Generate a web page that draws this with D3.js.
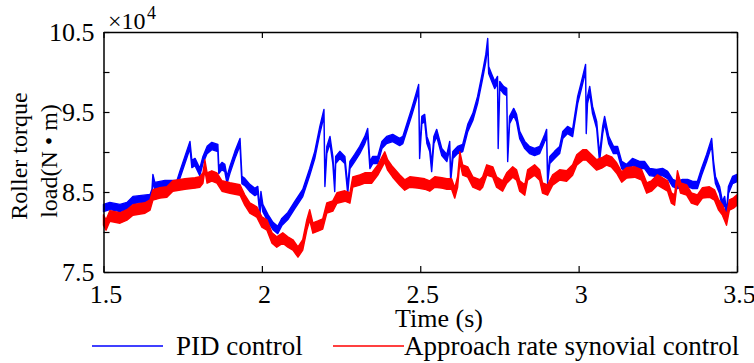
<!DOCTYPE html>
<html>
<head>
<meta charset="utf-8">
<script src="https://cdn.jsdelivr.net/npm/d3@7"></script>
</head>
<body style="margin:0">
<svg width="754" height="363"></svg>
<script>
// values, load in units of 1e4 N*m
const pidTime = [1.500,1.520,1.552,1.574,1.593,1.647,1.653,1.656,1.662,1.694,1.732,1.741,1.757,1.773,1.779,1.789,1.804,1.814,1.827,1.842,1.861,1.864,1.874,1.883,1.890,1.899,1.915,1.931,1.937,1.946,1.962,1.978,1.987,1.994,1.997,2.003,2.019,2.035,2.050,2.063,2.082,2.104,2.129,2.151,2.167,2.183,2.196,2.199,2.205,2.215,2.224,2.230,2.233,2.246,2.262,2.271,2.278,2.293,2.309,2.325,2.334,2.341,2.350,2.366,2.379,2.394,2.413,2.435,2.445,2.457,2.473,2.486,2.495,2.498,2.505,2.514,2.521,2.530,2.536,2.543,2.552,2.568,2.584,2.593,2.596,2.603,2.618,2.634,2.650,2.666,2.681,2.697,2.707,2.713,2.716,2.726,2.735,2.744,2.746,2.751,2.763,2.773,2.776,2.782,2.795,2.804,2.814,2.830,2.845,2.861,2.877,2.893,2.899,2.902,2.909,2.924,2.940,2.950,2.965,2.981,2.997,3.009,3.022,3.024,3.028,3.035,3.044,3.057,3.066,3.076,3.082,3.095,3.110,3.123,3.136,3.151,3.170,3.192,3.208,3.224,3.246,3.265,3.281,3.297,3.312,3.328,3.344,3.360,3.375,3.388,3.404,3.420,3.426,3.432,3.445,3.454,3.461,3.467,3.473,3.486,3.500];
const pidLoad = [8.300,8.325,8.300,8.325,8.400,8.425,8.488,8.675,8.575,8.600,8.600,8.713,8.900,9.088,8.850,8.875,8.750,8.900,9.025,9.075,9.050,8.775,8.825,8.800,8.650,8.775,8.963,9.125,8.650,8.625,8.550,8.500,8.525,8.250,8.463,8.300,8.175,8.075,8.025,8.125,8.200,8.338,8.488,8.750,8.963,9.275,9.488,8.613,9.025,9.150,8.900,8.550,8.900,8.963,8.900,8.525,8.838,8.925,9.025,9.150,9.250,8.838,8.900,8.900,9.088,9.150,9.175,9.125,9.150,9.300,9.500,9.675,9.800,8.963,9.400,9.425,9.150,9.050,8.800,9.150,9.238,9.000,8.925,9.088,8.675,8.963,9.025,9.050,9.300,9.438,9.650,9.963,10.175,10.375,10.025,9.925,9.838,9.900,9.088,9.838,9.775,9.750,8.925,9.400,9.500,9.425,9.213,9.088,9.025,9.000,9.025,9.175,9.238,8.650,8.900,8.963,9.025,9.213,9.275,9.238,9.650,9.838,10.050,9.275,9.650,9.775,9.525,9.338,8.925,9.275,9.400,9.150,9.025,9.025,8.838,8.800,8.875,8.838,8.838,8.750,8.738,8.750,8.713,8.613,8.588,8.613,8.613,8.588,8.588,8.750,8.925,9.125,8.838,8.650,8.525,8.338,8.400,8.213,8.525,8.650,8.675];

const arsTime = [1.500,1.508,1.520,1.552,1.574,1.593,1.631,1.647,1.656,1.678,1.700,1.719,1.757,1.789,1.804,1.814,1.820,1.827,1.842,1.858,1.874,1.899,1.931,1.946,1.962,1.984,2.000,2.016,2.032,2.047,2.066,2.082,2.098,2.114,2.129,2.142,2.151,2.161,2.177,2.192,2.205,2.224,2.237,2.262,2.278,2.287,2.309,2.325,2.347,2.366,2.388,2.397,2.413,2.435,2.451,2.467,2.492,2.514,2.530,2.546,2.568,2.584,2.599,2.609,2.618,2.625,2.634,2.650,2.666,2.688,2.697,2.710,2.729,2.741,2.760,2.773,2.792,2.804,2.814,2.830,2.839,2.861,2.877,2.886,2.902,2.918,2.940,2.962,2.981,2.994,3.013,3.025,3.041,3.057,3.073,3.088,3.104,3.120,3.136,3.151,3.177,3.199,3.215,3.230,3.249,3.265,3.281,3.293,3.303,3.312,3.322,3.341,3.356,3.375,3.391,3.413,3.429,3.442,3.454,3.467,3.476,3.489,3.500];
const arsLoad = [8.150,8.088,8.200,8.175,8.213,8.275,8.300,8.338,8.463,8.488,8.500,8.575,8.600,8.613,8.625,8.675,8.838,8.675,8.700,8.675,8.575,8.550,8.525,8.400,8.300,8.250,8.125,8.088,7.925,7.875,7.925,7.875,7.838,7.750,7.838,8.088,8.213,8.050,8.075,8.100,8.300,8.325,8.425,8.450,8.425,8.625,8.650,8.675,8.675,8.775,8.938,8.838,8.750,8.650,8.588,8.625,8.613,8.600,8.575,8.625,8.613,8.600,8.600,8.488,8.625,8.938,8.775,8.750,8.625,8.588,8.625,8.775,8.750,8.625,8.575,8.675,8.750,8.713,8.575,8.525,8.713,8.775,8.713,8.550,8.525,8.650,8.713,8.700,8.775,8.900,8.963,8.963,8.900,8.838,8.863,8.900,8.875,8.800,8.688,8.738,8.750,8.713,8.550,8.575,8.650,8.613,8.575,8.425,8.400,8.700,8.550,8.525,8.425,8.400,8.488,8.500,8.463,8.338,8.275,8.150,8.338,8.363,8.400];

// half height of the noise band around each series, in load units
const pidSpread = 0.045;
const arsSpread = 0.065;

const xTicks = [1.5, 2, 2.5, 3, 3.5];
const yTicks = [7.5, 8, 8.5, 9, 9.5, 10, 10.5];
const yLabels = [7.5, 8.5, 9.5, 10.5];
const seriesNames = ["PID control", "Approach rate synovial control"];
const seriesColors = ["#0000ff", "#ff0000"];

const svg = d3.select('svg');
const margin = { top: 32, right: 17, bottom: 91, left: 103.5 };
const innerWidth = +svg.attr('width') - margin.left - margin.right;
const innerHeight = +svg.attr('height') - margin.top - margin.bottom;

const xScale = d3.scaleLinear().domain([1.5, 3.5]).range([0, innerWidth]);
const yScale = d3.scaleLinear().domain([7.5, 10.5]).range([innerHeight, 0]);

const g = svg.append('g').attr('transform', `translate(${margin.left},${margin.top})`);

const seriesList = [
  { data: d3.zip(pidTime, pidLoad), color: seriesColors[0], s: pidSpread },
  { data: d3.zip(arsTime, arsLoad), color: seriesColors[1], s: arsSpread }
];

seriesList.forEach(sr => {
  const band = d3.area()
    .x(d => xScale(d[0]))
    .y0(d => yScale(d[1] - sr.s))
    .y1(d => yScale(d[1] + sr.s));
  g.append('path')
    .attr('d', band(sr.data))
    .attr('fill', sr.color)
    .attr('stroke', sr.color)
    .attr('stroke-width', 1.4)
    .attr('stroke-linejoin', 'round');
});

// axes, ticks pointing inward
const fmt = d => (yLabels.includes(d) ? String(d) : '');
g.append('g').attr('class', 'axis xb')
  .attr('transform', `translate(0,${innerHeight})`)
  .call(d3.axisBottom(xScale).tickValues(xTicks).tickSizeInner(-6).tickSizeOuter(0).tickPadding(13).tickFormat(d3.format('')))
  .attr('font-family', 'Liberation Serif').attr('font-size', 26);
g.append('g').attr('class', 'axis')
  .call(d3.axisTop(xScale).tickValues(xTicks).tickSizeInner(-6).tickSizeOuter(0).tickFormat(''));
g.append('g').attr('class', 'axis')
  .call(d3.axisLeft(yScale).tickValues(yTicks).tickSizeInner(-6).tickSizeOuter(0).tickPadding(9).tickFormat(fmt))
  .attr('font-family', 'Liberation Serif').attr('font-size', 26);
g.append('g').attr('class', 'axis')
  .attr('transform', `translate(${innerWidth},0)`)
  .call(d3.axisRight(yScale).tickValues(yTicks).tickSizeInner(-6).tickSizeOuter(0).tickFormat(''));

g.selectAll('.axis path').attr('stroke', '#000').attr('stroke-width', 1.5);
g.selectAll('.axis line').attr('stroke', '#000').attr('stroke-width', 1.2);
g.selectAll('.axis text').attr('fill', '#000');
g.selectAll('.xb text').attr('dx', 2);

// exponent
svg.append('text').attr('x', 108).attr('y', 29)
  .attr('font-family', 'Liberation Serif').attr('font-size', 24).text('\u00d710');
svg.append('text').attr('x', 147).attr('y', 19)
  .attr('font-family', 'Liberation Serif').attr('font-size', 18).text('4');

// axis titles
svg.append('text').attr('x', 439).attr('y', 327).attr('text-anchor', 'middle')
  .attr('font-family', 'Liberation Serif').attr('font-size', 26).text('Time (s)');
svg.append('text').attr('transform', 'translate(27,156) rotate(-90)').attr('text-anchor', 'middle')
  .attr('font-family', 'Liberation Serif').attr('font-size', 24).text('Roller torque');
svg.append('text').attr('transform', 'translate(57,161) rotate(-90)').attr('text-anchor', 'middle')
  .attr('font-family', 'Liberation Serif').attr('font-size', 24).text('load(N \u2022 m)');

// legend
const legendX = [92, 333];
const legend = svg.selectAll('.legend').data(seriesNames).enter().append('g')
  .attr('class', 'legend')
  .attr('transform', (d, i) => `translate(${legendX[i]},346)`);
legend.append('line').attr('x1', 0).attr('x2', 71).attr('y1', 0).attr('y2', 0)
  .attr('stroke', (d, i) => seriesColors[i]).attr('stroke-width', 1.6);
legend.append('text').attr('x', (d, i) => i === 0 ? 84 : 71).attr('y', 9)
  .attr('font-family', 'Liberation Serif').attr('font-size', 27).text(d => d);
</script>
</body>
</html>
